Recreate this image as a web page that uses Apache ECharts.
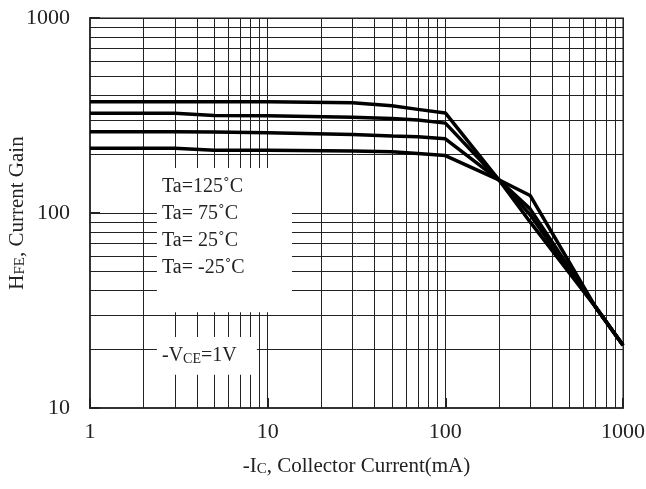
<!DOCTYPE html>
<html>
<head>
<meta charset="utf-8">
<script src="https://cdn.jsdelivr.net/npm/echarts@6/dist/echarts.min.js"></script>
<style>
  html, body { margin: 0; padding: 0; background: #fff; }
  #chart { width: 646px; height: 489px; }
</style>
</head>
<body>
<div id="chart"></div>
<script>
// collector current (mA) and current gain per temperature
const current = [1, 3, 5, 10, 30, 50, 70, 100, 200, 300, 700, 1000];
const gain125 = [372, 372, 372, 372, 368, 355, 340, 326, 148, 90, 33, 21];
const gain75 = [325, 325, 316, 315, 310, 305, 300, 289, 148, 98, 33, 21];
const gain25 = [261, 261, 260, 258, 253, 248, 246, 240, 148, 105, 33, 21];
const gainM25 = [215, 215, 210, 210, 208, 206, 202, 197, 148, 123, 33, 21];

// log grid minor lines
const minorX = [2, 3, 4, 5, 6, 7, 8, 9, 20, 30, 40, 50, 60, 70, 80, 90, 200, 300, 400, 500, 600, 700, 800, 900];
const minorY = [20, 30, 40, 50, 60, 70, 80, 90, 200, 300, 400, 500, 600, 700, 800, 900];

const tempLabels = ["Ta=125˚C", "Ta= 75˚C", "Ta= 25˚C", "Ta= -25˚C"];

// white boxes behind the annotations (in data units)
const legendBox = [[2.38, 170], [13.7, 31]];
const vceBox = [[2.38, 23.1], [8.7, 14.8]];

const FONT = '"Liberation Serif", "Times New Roman", serif';
const INK = "#222";

const pairs = (ys) => current.map((x, i) => [x, ys[i]]);

const myChart = echarts.init(document.getElementById("chart"));

const curve = (name, ys) => ({
  name: name,
  type: "line",
  data: pairs(ys),
  z: 10,
  symbol: "none",
  silent: true,
  lineStyle: { color: "#000", width: 3.5 },
});

const option = {
  animation: false,
  backgroundColor: "#fff",
  grid: {
    left: 90, top: 18, right: 23, bottom: 81,
    outerBoundsMode: "none", containLabel: false,
    show: true, borderColor: "#888", borderWidth: 2,
  },
  xAxis: {
    type: "log", logBase: 10, min: 1, max: 1000,
    name: "{n|-I}{s|C}{n|, Collector Current(mA)}",
    nameLocation: "middle", nameGap: 48, nameMoveOverlap: false,
    nameTextStyle: {
      rich: {
        n: { fontSize: 21, fontFamily: FONT, color: INK, verticalAlign: "bottom" },
        s: { fontSize: 15, fontFamily: FONT, color: INK, verticalAlign: "bottom" },
      },
    },
    axisLine: { lineStyle: { color: "#333", width: 2 } },
    axisTick: { inside: true, length: 10, lineStyle: { color: INK, width: 2 } },
    axisLabel: {
      margin: 13, fontSize: 22, fontFamily: FONT, color: INK,
      formatter: (v) => String(Math.round(v)),
    },
    splitLine: { show: true, lineStyle: { color: INK, width: 1 } },
  },
  yAxis: {
    type: "log", logBase: 10, min: 10, max: 1000,
    name: "{n|H}{s|FE}{n|, Current Gain}",
    nameLocation: "middle", nameGap: 62, nameRotate: 90, nameMoveOverlap: false,
    nameTextStyle: {
      rich: {
        n: { fontSize: 21, fontFamily: FONT, color: INK, verticalAlign: "bottom" },
        s: { fontSize: 15, fontFamily: FONT, color: INK, verticalAlign: "bottom" },
      },
    },
    axisLine: { lineStyle: { color: "#333", width: 2 } },
    axisTick: { inside: true, length: 10, lineStyle: { color: INK, width: 2 } },
    axisLabel: {
      margin: 20, fontSize: 22, fontFamily: FONT, color: INK,
      formatter: (v) => String(Math.round(v)),
    },
    splitLine: { show: true, lineStyle: { color: INK, width: 1 } },
  },
  series: [
    {
      type: "line", data: [], z: 1, silent: true,
      markLine: {
        z: 1, silent: true, symbol: ["none", "none"], animation: false,
        label: { show: false },
        lineStyle: { color: INK, width: 1, type: "solid" },
        data: minorX.map((v) => ({ xAxis: v })).concat(minorY.map((v) => ({ yAxis: v }))),
      },
    },
    {
      type: "line", data: [], z: 3, silent: true,
      markArea: {
        z: 3, silent: true,
        itemStyle: { color: "#fff", opacity: 1 },
        data: [legendBox, vceBox].map((b) => [
          { coord: b[0] },
          { coord: b[1] },
        ]),
      },
    },
    curve("Ta=125", gain125),
    curve("Ta=75", gain75),
    curve("Ta=25", gain25),
    curve("Ta=-25", gainM25),
  ],
  graphic: [
    ...tempLabels.map((t, i) => ({
      type: "text", z: 20,
      x: 162, y: 187 + i * 27,
      style: { text: t, font: "20px " + FONT, fill: INK, verticalAlign: "middle" },
    })),
    {
      type: "text", z: 20,
      x: 162, y: 356,
      style: {
        text: "{n|-V}{s|CE}{n|=1V}",
        verticalAlign: "middle",
        rich: {
          n: { fontSize: 20, fontFamily: FONT, fill: INK, verticalAlign: "bottom" },
          s: { fontSize: 14, fontFamily: FONT, fill: INK, verticalAlign: "bottom" },
        },
      },
    },
  ],
};

myChart.setOption(option);
</script>
</body>
</html>
